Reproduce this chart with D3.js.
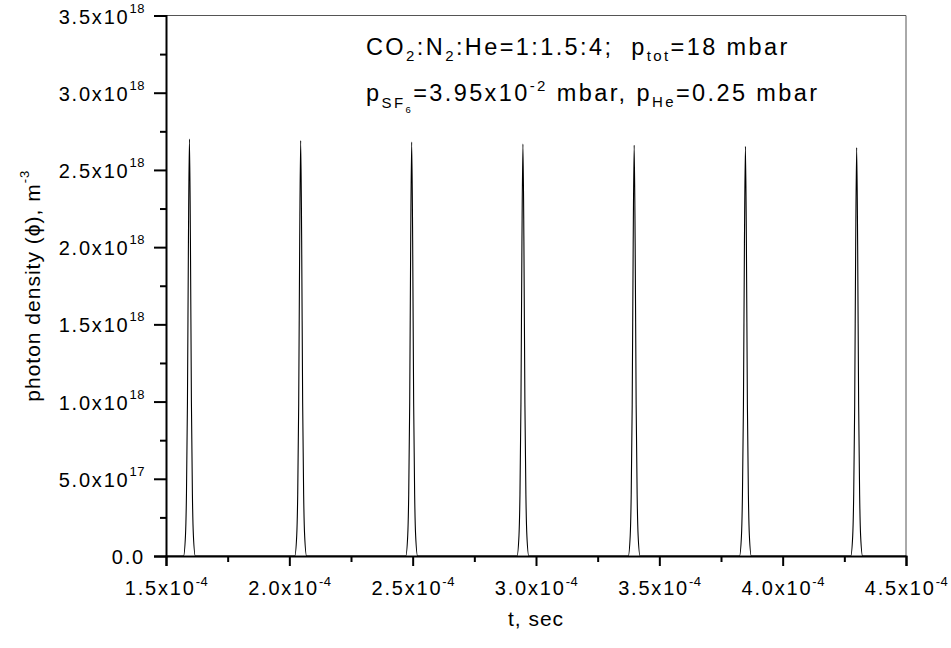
<!DOCTYPE html>
<html>
<head>
<meta charset="utf-8">
<script src="https://cdn.jsdelivr.net/npm/d3@7"></script>
<style>
  body { margin: 0; background: #fff; }
  svg { display: block; font-family: 'Liberation Sans', Arial, sans-serif; }
  text { white-space: pre; }
</style>
</head>
<body>
<svg width="951" height="648"></svg>
<script>
// time in units of 1e-4 s, photon density in units of 1e18 m^-3
const tTicks = [1.5, 2.0, 2.5, 3.0, 3.5, 4.0, 4.5]
const tMinor = [1.75, 2.25, 2.75, 3.25, 3.75, 4.25]
const phiTicks = [0, 0.5, 1.0, 1.5, 2.0, 2.5, 3.0, 3.5]
const phiMinor = [0.25, 0.75, 1.25, 1.75, 2.25, 2.75, 3.25]
const phiLabels = ['0.0', '5.0x10', '1.0x10', '1.5x10', '2.0x10', '2.5x10', '3.0x10', '3.5x10']
const phiSup = ['', '17', '18', '18', '18', '18', '18', '18']

const tSeries = [
  1.5,
  1.571, 1.579, 1.583, 1.587, 1.591, 1.595, 1.599, 1.603, 1.607, 1.611, 1.619,
  2.022, 2.030, 2.034, 2.038, 2.042, 2.046, 2.050, 2.054, 2.058, 2.062, 2.070,
  2.472, 2.480, 2.484, 2.488, 2.492, 2.496, 2.500, 2.504, 2.508, 2.512, 2.520,
  2.923, 2.931, 2.935, 2.939, 2.943, 2.947, 2.951, 2.955, 2.959, 2.963, 2.971,
  3.374, 3.382, 3.386, 3.390, 3.394, 3.398, 3.402, 3.406, 3.410, 3.414, 3.422,
  3.825, 3.833, 3.837, 3.841, 3.845, 3.849, 3.853, 3.857, 3.861, 3.865, 3.873,
  4.276, 4.284, 4.288, 4.292, 4.296, 4.300, 4.304, 4.308, 4.312, 4.316, 4.324,
  4.5
]
const phiSeries = [
  0,
  0, 0.135, 0.405, 1.00, 2.05, 2.700, 2.05, 1.00, 0.405, 0.135, 0,
  0, 0.134, 0.40, 0.99, 2.04, 2.690, 2.04, 0.99, 0.40, 0.134, 0,
  0, 0.134, 0.40, 0.99, 2.04, 2.680, 2.04, 0.99, 0.40, 0.134, 0,
  0, 0.133, 0.40, 0.99, 2.03, 2.668, 2.03, 0.99, 0.40, 0.133, 0,
  0, 0.133, 0.40, 0.98, 2.02, 2.660, 2.02, 0.98, 0.40, 0.133, 0,
  0, 0.133, 0.40, 0.98, 2.02, 2.652, 2.02, 0.98, 0.40, 0.133, 0,
  0, 0.132, 0.40, 0.98, 2.01, 2.645, 2.01, 0.98, 0.40, 0.132, 0,
  0
]

var margin = { top: 15.5, left: 166 },
  width = 740,
  height = 540.5

const xScale = d3.scaleLinear().domain([1.5, 4.5]).range([0, width])
const yScale = d3.scaleLinear().domain([0, 3.5]).range([height, 0])

const svg = d3.select('svg')
const g = svg.append('g').attr('transform', 'translate(' + margin.left + ',' + margin.top + ')')

// thin frame on top and right
g.append('line').attr('x1', 0).attr('x2', width).attr('y1', 0).attr('y2', 0)
  .attr('stroke', '#555').attr('stroke-width', 1)
g.append('line').attr('x1', width).attr('x2', width).attr('y1', 0).attr('y2', height)
  .attr('stroke', '#555').attr('stroke-width', 1)

const line = d3.line()
  .x((d, i) => xScale(tSeries[i]))
  .y((d, i) => yScale(phiSeries[i]))
  .curve(d3.curveMonotoneX)

g.append('path')
  .attr('d', line(tSeries))
  .attr('fill', 'none')
  .attr('stroke', '#000')
  .attr('stroke-width', 1.1)

// x axis
const xAxis = d3.axisBottom(xScale).tickValues(tTicks).tickSize(10).tickPadding(6)
const xg = g.append('g').attr('transform', `translate(0,${height})`).call(xAxis)
xg.select('.domain').attr('stroke-width', 2)
xg.selectAll('.tick line').attr('stroke-width', 2)
xg.selectAll('.tick text').each(function (d) {
  const t = d3.select(this)
  t.text(null).attr('y', 38.5).attr('dy', null)
    .attr('font-size', 20).attr('letter-spacing', 1.8).attr('fill', '#000')
  t.append('tspan').text(d.toFixed(1) + 'x10')
  t.append('tspan').attr('dy', -9).attr('font-size', 13).attr('letter-spacing', 0.5).text('-4')
})
g.append('g').attr('transform', `translate(0,${height})`)
  .call(d3.axisBottom(xScale).tickValues(tMinor).tickSize(6).tickFormat(''))
  .call((s) => s.select('.domain').remove())
  .selectAll('line').attr('stroke-width', 2)

// y axis
const yAxis = d3.axisLeft(yScale).tickValues(phiTicks).tickSize(12).tickPadding(8)
const yg = g.append('g').call(yAxis)
yg.select('.domain').attr('stroke-width', 2)
yg.selectAll('.tick line').attr('stroke-width', 2)
yg.selectAll('.tick text').each(function (d, i) {
  const t = d3.select(this)
  t.text(null).attr('x', -21).attr('dy', 7.5)
    .attr('font-size', 20).attr('letter-spacing', 1.8).attr('fill', '#000')
  t.append('tspan').text(phiLabels[i])
  if (phiSup[i]) t.append('tspan').attr('dy', -11).attr('font-size', 13).attr('letter-spacing', 0.5).text(phiSup[i])
})
g.append('g')
  .call(d3.axisLeft(yScale).tickValues(phiMinor).tickSize(6).tickFormat(''))
  .call((s) => s.select('.domain').remove())
  .selectAll('line').attr('stroke-width', 2)

// axis titles
svg.append('text')
  .attr('x', margin.left + width / 2).attr('y', 626)
  .attr('text-anchor', 'middle').attr('font-size', 21).attr('letter-spacing', 1)
  .text('t, sec')

const yt = svg.append('text')
  .attr('transform', `translate(40,${margin.top + height / 2}) rotate(-90)`)
  .attr('text-anchor', 'middle').attr('font-size', 21).attr('letter-spacing', 1)
yt.append('tspan').text('photon density (\u03D5), m')
yt.append('tspan').attr('dy', -11).attr('font-size', 13).text('-3')

// annotation
const ann = svg.append('g').attr('font-size', 23.5).attr('letter-spacing', 2.4)
const a1 = ann.append('text').attr('x', 366).attr('y', 55)
a1.append('tspan').text('CO')
a1.append('tspan').attr('dy', 6).attr('font-size', 15).text('2')
a1.append('tspan').attr('dy', -6).text(':N')
a1.append('tspan').attr('dy', 6).attr('font-size', 15).text('2')
a1.append('tspan').attr('dy', -6).text(':He=1:1.5:4;  p')
a1.append('tspan').attr('dy', 6).attr('font-size', 15).text('tot')
a1.append('tspan').attr('dy', -6).text('=18 mbar')

const a2 = ann.append('text').attr('x', 366).attr('y', 101)
a2.append('tspan').text('p')
a2.append('tspan').attr('dy', 7).attr('font-size', 15).text('SF')
a2.append('tspan').attr('dy', 5).attr('font-size', 9.5).text('6')
a2.append('tspan').attr('dy', -12).text('=3.95x10')
a2.append('tspan').attr('dy', -10).attr('font-size', 15).text('-2')
a2.append('tspan').attr('dy', 10).text(' mbar, p')
a2.append('tspan').attr('dy', 6).attr('font-size', 15).text('He')
a2.append('tspan').attr('dy', -6).text('=0.25 mbar')
</script>
</body>
</html>
